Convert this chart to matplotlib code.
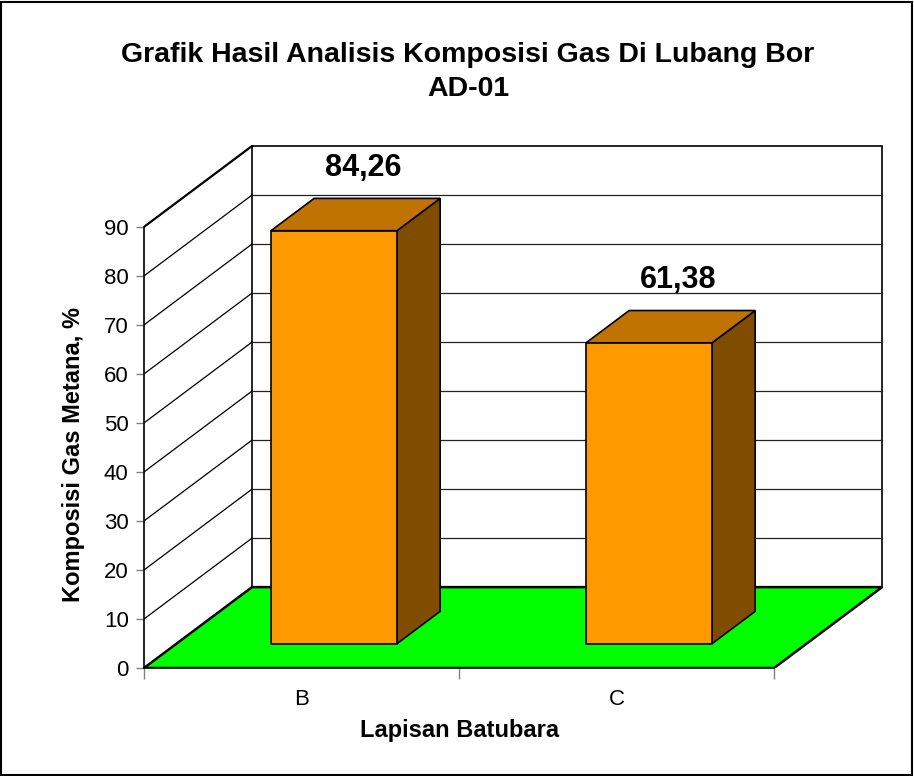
import matplotlib.pyplot as plt
from matplotlib.patches import Polygon, Rectangle

plt.rcParams['font.family'] = ['Liberation Sans', 'DejaVu Sans']

# data
lapisan = ['B', 'C']
metana = [84.26, 61.38]
label_nilai = ['84,26', '61,38']
yticks = list(range(0, 100, 10))

# 3D look (oblique projection in data units)
dx = 0.343
dy = 16.5
ymax = 90
lebar = 0.4
d0, d1 = 0.3, 0.7

fig = plt.figure(figsize=(9.14, 7.76), dpi=100)
ax = fig.add_axes([144/914, 108/776, 740/914, 523/776])
xkanan = 2 + dx + 0.006
ax.set_xlim(0, xkanan)
ax.set_ylim(0, ymax + dy + 0.2)
ax.patch.set_visible(False)

# dinding belakang
ax.add_patch(Polygon([(dx, dy), (2+dx, dy), (2+dx, dy+ymax), (dx, dy+ymax)],
                     closed=True, fc='white', ec='black', lw=1.2, zorder=1))
for v in yticks[1:-1]:
    ax.plot([dx, 2+dx], [dy+v, dy+v], color='#222222', lw=0.9, zorder=2)
# dinding samping
for v in yticks[1:-1]:
    ax.plot([0, dx], [v, dy+v], color='black', lw=0.9, zorder=2)
ax.plot([0, dx], [ymax, dy+ymax], color='black', lw=1.6, zorder=2)

# lantai
ax.add_patch(Polygon([(0, 0), (2, 0), (2+dx, dy), (dx, dy)],
                     closed=True, fc='#00FF00', ec='black', lw=1.8, zorder=3))

# batang
for i, v in enumerate(metana):
    c = i + 0.5
    x0 = c - lebar/2 + d0*dx
    x1 = c + lebar/2 + d0*dx
    yb = d0*dy
    ox = (d1-d0)*dx
    oy = (d1-d0)*dy
    sisi = [(x1, yb), (x1+ox, yb+oy), (x1+ox, yb+oy+v), (x1, yb+v)]
    atas = [(x0, yb+v), (x1, yb+v), (x1+ox, yb+oy+v), (x0+ox, yb+oy+v)]
    depan = [(x0, yb), (x1, yb), (x1, yb+v), (x0, yb+v)]
    ax.add_patch(Polygon(sisi, closed=True, fc='#804C00', ec='black', lw=1.2, zorder=4))
    ax.add_patch(Polygon(atas, closed=True, fc='#C07300', ec='black', lw=1.2, zorder=4))
    ax.add_patch(Polygon(depan, closed=True, fc='#FF9900', ec='black', lw=1.2, zorder=5))
    ax.annotate(label_nilai[i], xy=(c + 0.57*dx, v + d1*dy), xytext=(0, 22),
                textcoords='offset points', ha='center', va='center',
                fontsize=22, fontweight='bold', zorder=6)

# sumbu
for s in ['top', 'right']:
    ax.spines[s].set_visible(False)
ax.spines['left'].set_bounds(0, ymax)
ax.spines['bottom'].set_bounds(0, 2)
ax.spines['left'].set_linewidth(1.2)
ax.spines['bottom'].set_linewidth(1.2)
ax.spines['left'].set_zorder(7)
ax.spines['bottom'].set_zorder(7)
ax.set_yticks(yticks)
ax.tick_params(axis='y', length=6, width=1, color='#808080', labelsize=16, pad=5)
ax.set_xticks([0, 1, 2])
ax.set_xticklabels([])
ax.set_xticks([0.5, 1.5], minor=True)
ax.set_xticklabels(lapisan, minor=True)
ax.tick_params(axis='x', which='major', length=8, width=1, color='#808080')
ax.tick_params(axis='x', which='minor', length=0, labelsize=16, pad=15)

ax.set_xlabel('Lapisan Batubara', fontsize=17, fontweight='bold')
ax.xaxis.set_label_coords((460 - 144)/740, -(731 - 668)/523)
ax.xaxis.label.set_va('center')
ax.set_ylabel('Komposisi Gas Metana, %', fontsize=17, fontweight='bold')
ax.yaxis.set_label_coords(-(144 - 74)/740, (668 - 455)/523)
ax.yaxis.label.set_va('center')

fig.text(468/914, 1 - 72/776, 'Grafik Hasil Analisis Komposisi Gas Di Lubang Bor\nAD-01',
         ha='center', va='center', fontsize=20.5, fontweight='bold', linespacing=1.35)

fig.patches.append(Rectangle((0.001, 0.001), 0.997, 0.997, transform=fig.transFigure,
                             fill=False, ec='black', lw=1.5))

fig.savefig('out.png', dpi=100)
